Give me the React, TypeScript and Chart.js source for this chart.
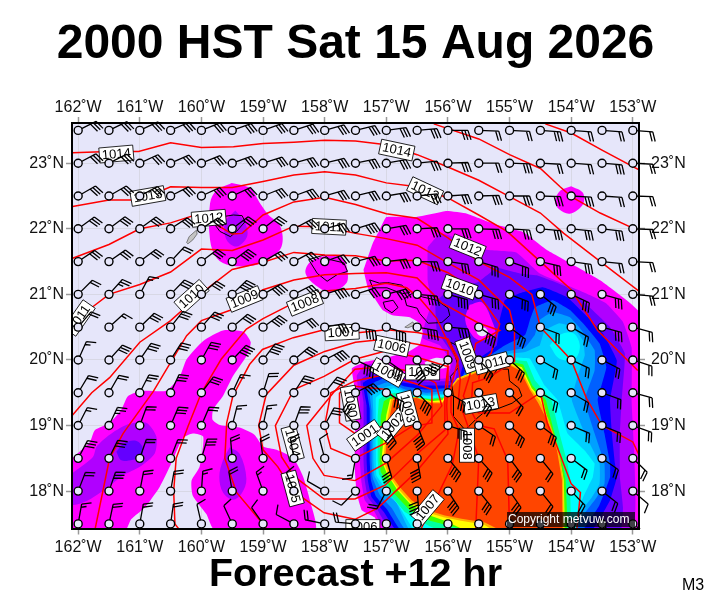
import React, { useEffect, useRef } from "react";
import { Chart, registerables } from "chart.js";
Chart.register(...registerables);

type P = number[];
const FONT = "'Liberation Sans', Arial, sans-serif";
const titleText = "2000 HST Sat 15 Aug 2026";
const subtitleText = "Forecast +12 hr";
const lonTicks = [-162, -161, -160, -159, -158, -157, -156, -155, -154, -153];
const latTicks = [18, 19, 20, 21, 22, 23];
const stationLons = [-162, -161.5, -161, -160.5, -160, -159.5, -159, -158.5, -158, -157.5, -157, -156.5, -156, -155.5, -155, -154.5, -154, -153.5, -153];
const stationLats = [23.5, 23, 22.5, 22, 21.5, 21, 20.5, 20, 19.5, 19, 18.5, 18, 17.5];

const windAngle = [
  [27, 26, 25, 24, 22, 20, 20, 18, 16, 14, 8, 5, 0, -2, -3, -4, -4, -4, -4],
  [28, 27, 25, 24, 22, 20, 18, 16, 14, 12, 10, 6, 2, 0, -2, -3, -4, -5, -3],
  [30, 30, 28, 27, 25, 25, 22, 20, 16, 14, 10, 6, 4, 2, 0, -2, -3, -4, -2],
  [36, 37, 36, 33, 33, 37, 38, 28, 16, 17, 10, 3, 0, -2, -4, -5, -6, -7, -2],
  [34, 35, 37, 47, 37, 37, 30, 28, 20, 15, 7, -1, -8, -17, -19, -13, -8, -6, -3],
  [45, 48, 62, 46, 41, 44, 30, 27, 18, 18, 15, -5, -15, -15, -21, -38, -25, -15, -5],
  [50, 42, 44, 52, 49, 40, 36, 26, 10, -10, -17, -10, -5, -33, -37, -20, -30, -15, -15],
  [66, 48, 56, 58, 61, 47, 53, 40, 28, -25, -35, -65, -135, -45, -42, -30, -25, -27, -18],
  [59, 60, 63, 65, 53, 65, 73, 57, 51, 27, -28, -45, -30, -50, -47, -30, -30, -20, -15],
  [63, 65, 70, 67, 67, 76, 78, 70, 62, 130, -60, -68, -18, -34, -42, -37, -23, -22, -20],
  [62, 64, 71, 69, 73, 95, 98, 100, 105, -100, -74, -80, -50, -48, -53, -51, -37, -35, -44],
  [69, 71, 79, 80, 86, 100, 110, 112, 150, -135, -118, -85, -57, -51, -55, -51, -46, -38, -40],
  [80, 78, 80, 82, 103, 115, 125, 152, 168, 175, -100, -80, -60, -55, -55, -55, -50, -45, -35],
];
const windSpeed = [
  [30, 30, 30, 30, 30, 30, 30, 30, 30, 30, 30, 30, 30, 20, 20, 30, 20, 20, 20],
  [30, 30, 30, 30, 30, 30, 30, 30, 30, 30, 30, 30, 30, 20, 30, 20, 20, 30, 20],
  [30, 30, 30, 30, 30, 30, 30, 30, 30, 30, 30, 30, 30, 30, 30, 30, 30, 20, 20],
  [30, 30, 30, 30, 30, 30, 30, 30, 30, 40, 30, 30, 30, 30, 30, 30, 30, 30, 20],
  [30, 30, 30, 20, 30, 40, 30, 30, 30, 30, 30, 30, 30, 30, 30, 30, 30, 20, 20],
  [20, 25, 15, 30, 30, 40, 40, 30, 40, 30, 40, 40, 40, 30, 30, 30, 30, 30, 20],
  [20, 15, 30, 30, 30, 30, 40, 30, 30, 40, 40, 40, 40, 40, 30, 20, 20, 30, 20],
  [15, 30, 30, 30, 30, 40, 40, 30, 40, 40, 40, 40, 40, 30, 30, 20, 20, 20, 20],
  [20, 20, 25, 30, 30, 15, 20, 30, 30, 40, 40, 40, 30, 30, 20, 20, 20, 20, 20],
  [15, 25, 20, 30, 20, 15, 15, 30, 30, 30, 40, 40, 40, 20, 30, 30, 20, 20, 20],
  [30, 30, 20, 20, 30, 20, 20, 20, 10, 15, 30, 40, 40, 30, 30, 20, 20, 20, 20],
  [20, 30, 20, 20, 15, 20, 15, 10, 10, 10, 20, 40, 40, 30, 30, 20, 20, 20, 10],
  [15, 20, 20, 20, 10, 10, 10, 10, 20, 20, 30, 40, 40, 30, 30, 30, 20, 20, 10],
];

// rain shading
const kauaiRain: P[] = [[-159.51,22.7],[-159.21,22.62],[-159.05,22.39],[-158.91,22.21],[-158.72,22.04],[-158.7,21.73],[-158.91,21.53],[-159.15,21.44],[-159.53,21.44],[-159.75,21.55],[-159.86,21.83],[-159.86,22.39],[-159.75,22.59]];
const kauaiCore: P[] = [[-159.45,22.28],[-159.29,22.09],[-159.26,21.88],[-159.43,21.73],[-159.59,21.83],[-159.62,22.09]];
const oahuRain: P[] = [[-157.96,21.6],[-157.71,21.55],[-157.63,21.35],[-157.65,21.17],[-157.91,21.03],[-158.12,21.12],[-158.31,21.32],[-158.23,21.5]];
const dotRain: P[] = [[-154,22.65],[-153.81,22.55],[-153.81,22.37],[-154.02,22.23],[-154.2,22.3],[-154.26,22.42],[-154.18,22.58]];
const swRain: P[] = [[-162.1,18.5],[-161.81,18.75],[-161.73,18.93],[-161.49,19.04],[-161.3,19.24],[-161.19,19.45],[-160.95,19.53],[-160.57,19.53],[-160.35,19.75],[-160.24,20.01],[-159.97,20.29],[-159.65,20.45],[-159.32,20.43],[-159.2,20.27],[-159.27,20.06],[-159.49,19.75],[-159.65,19.45],[-159.81,19.24],[-159.82,19.09],[-159.7,19.01],[-159.38,18.97],[-159.14,18.86],[-159,18.68],[-158.78,18.63],[-158.51,18.5],[-158.35,18.22],[-158.24,17.86],[-158.16,17.4],[-159.78,17.4],[-159.92,17.65],[-160.14,17.93],[-160.16,18.16],[-160.03,18.37],[-159.97,18.83],[-160.14,18.88],[-160.3,18.81],[-160.49,18.42],[-160.68,18.06],[-160.92,17.75],[-161.14,17.57],[-161.24,17.4],[-162.1,17.4]];
const swPurple: P[] = [[-162.1,18.27],[-161.76,18.52],[-161.7,18.68],[-161.49,18.86],[-161.22,19.01],[-160.89,19.04],[-160.73,18.83],[-160.76,18.57],[-161,18.37],[-161.27,18.24],[-161.59,18.01],[-161.86,17.85],[-162.1,17.8]];
const swViolet: P[] = [[-161.38,18.6],[-161.27,18.72],[-161.08,18.77],[-160.96,18.68],[-160.97,18.52],[-161.11,18.48],[-161.3,18.47]];
const sPurple: P[] = [[-159.54,18.67],[-159.38,18.57],[-159.27,18.19],[-159.35,17.96],[-159.49,17.87],[-159.65,17.98],[-159.71,18.22],[-159.65,18.47]];
const mainRain: P[] = [[-157.37,21.37],[-157.22,21.78],[-157.11,21.98],[-157,22.18],[-156.51,22.18],[-156.02,22.27],[-155.69,22.23],[-155.21,22.06],[-154.78,21.95],[-154.4,21.68],[-153.97,21.45],[-153.49,21.19],[-152.88,20.71],[-152.88,17.37],[-157.07,17.37],[-157.19,17.6],[-157.4,17.71],[-157.48,17.97],[-157.51,18.32],[-157.51,18.78],[-157.48,19.39],[-157.56,19.87],[-157.35,19.97],[-157.02,20.03],[-156.65,20.12],[-156.46,20.23],[-156.41,20.42],[-156.46,20.56],[-156.62,20.65],[-156.9,20.68],[-157.06,20.76],[-157.19,20.94],[-157.3,21.1]];
const holeA: P[] = [[-156.38,19.96],[-156.21,20.03],[-156.02,20],[-155.97,19.92],[-156.1,19.87],[-156.33,19.89]];
const holeB: P[] = [[-155.53,20.49],[-155.4,20.49],[-155.35,20.41],[-155.45,20.36],[-155.53,20.41]];
const level1: P[] = [[-156.33,21.72],[-156.13,21.93],[-155.86,21.86],[-155.37,21.68],[-154.89,21.64],[-154.51,21.32],[-154.14,21.17],[-153.7,20.99],[-153.43,20.86],[-153.16,20.58],[-153.02,20.19],[-153.02,19.39],[-153.02,17.37],[-157,17.37],[-157.19,17.68],[-157.35,17.86],[-157.4,18.12],[-157.43,18.47],[-157.43,19.36],[-157.48,19.76],[-157.35,19.92],[-157.14,19.95],[-156.75,19.81],[-156.38,19.72],[-156.02,19.72],[-155.94,19.96],[-156.13,20.22],[-156.41,20.33],[-156.38,20.53],[-156.27,20.87],[-156.33,21.22]];
const level2: P[] = [[-155.21,21.41],[-154.83,21.32],[-154.56,21.29],[-154.07,21.11],[-153.7,20.8],[-153.37,20.5],[-153.13,20.1],[-153.18,19.39],[-153.21,18.88],[-153.21,18.21],[-153.16,17.75],[-153.21,17.37],[-156.91,17.37],[-157.14,17.71],[-157.3,17.91],[-157.35,18.17],[-157.37,18.47],[-157.37,19.36],[-157.42,19.69],[-157.27,19.81],[-157.11,19.87],[-156.75,19.73],[-156.38,19.67],[-155.89,19.69],[-155.84,19.96],[-156.02,20.22],[-156.18,20.45],[-156.2,20.88],[-155.97,21.07],[-155.51,21.19]];
const patch: P[] = [[-155.65,20.84],[-155.45,20.88],[-155.29,20.61],[-155.24,20.38],[-155.48,20.3],[-155.61,20.38],[-155.72,20.61]];
const level3: P[] = [[-155.08,20.91],[-154.83,21.02],[-154.46,21.11],[-154.07,20.96],[-153.73,20.65],[-153.49,20.41],[-153.26,19.99],[-153.37,19.39],[-153.34,18.88],[-153.29,18.42],[-153.26,18.21],[-153.37,17.86],[-153.7,17.37],[-156.81,17.37],[-157.04,17.68],[-157.24,17.91],[-157.3,18.17],[-157.32,18.47],[-157.32,19.31],[-157.38,19.65],[-157.24,19.73],[-157.08,19.8],[-156.75,19.66],[-156.38,19.61],[-155.85,19.63],[-155.73,19.99],[-155.51,20.02],[-155.21,20.22],[-155.16,20.61]];
const level4: P[] = [[-154.67,20.61],[-154.59,20.8],[-154.3,20.91],[-154.02,20.76],[-153.78,20.53],[-153.54,20.25],[-153.43,19.89],[-153.57,19.39],[-153.46,18.88],[-153.37,18.42],[-153.37,18.21],[-153.54,17.79],[-153.86,17.37],[-156.73,17.37],[-156.98,17.71],[-157.17,17.92],[-157.25,18.17],[-157.27,18.47],[-157.27,19.26],[-157.32,19.57],[-157.19,19.66],[-157.02,19.72],[-156.71,19.6],[-156.36,19.55],[-155.85,19.6],[-155.68,19.9],[-155.4,20.02],[-155.08,20.22],[-154.75,20.38]];
const level5: P[] = [[-154.59,20.38],[-154.51,20.61],[-154.3,20.73],[-154.02,20.65],[-153.83,20.45],[-153.62,20.15],[-153.62,19.84],[-153.78,19.39],[-153.62,18.88],[-153.46,18.42],[-153.46,18.11],[-153.59,17.9],[-153.83,17.6],[-153.94,17.37],[-156.65,17.37],[-156.91,17.74],[-157.11,17.95],[-157.22,18.2],[-157.24,18.47],[-157.24,19.23],[-157.27,19.5],[-157.16,19.6],[-156.98,19.66],[-156.69,19.55],[-156.34,19.5],[-155.84,19.56],[-155.65,19.87],[-155.37,19.98],[-155.05,20.13],[-154.75,20.19]];
const level6: P[] = [[-154.51,20.22],[-154.43,20.45],[-154.19,20.56],[-153.97,20.5],[-153.81,20.3],[-153.78,20.07],[-153.89,19.77],[-153.99,19.39],[-153.78,18.88],[-153.54,18.42],[-153.54,18.11],[-153.67,17.9],[-153.89,17.63],[-153.99,17.37],[-156.59,17.37],[-156.84,17.83],[-157.04,17.98],[-157.19,18.23],[-157.21,18.47],[-157.21,19.2],[-157.22,19.46],[-157.11,19.55],[-156.91,19.61],[-156.65,19.5],[-156.33,19.47],[-155.83,19.51],[-155.61,19.83],[-155.34,19.95],[-155.03,20.09],[-154.75,20.12]];
const level7: P[] = [[-155.01,20.04],[-154.67,20.02],[-154.43,19.61],[-154.22,19.39],[-154.06,18.88],[-153.78,18.62],[-153.62,18.42],[-153.65,18.21],[-153.81,17.9],[-153.89,17.71],[-153.94,17.37],[-156.52,17.37],[-156.8,17.78],[-156.99,18.01],[-157.16,18.24],[-157.17,18.47],[-157.17,19.17],[-157.17,19.42],[-157.06,19.51],[-156.88,19.57],[-156.62,19.46],[-156.31,19.45],[-155.83,19.49],[-155.58,19.8],[-155.3,19.92]];
const cyanBlob: P[] = [[-154.35,20.22],[-154.19,20.38],[-153.97,20.41],[-153.86,20.22],[-153.94,20.02],[-154.19,20.02]];
const level8: P[] = [[-155.01,20.01],[-154.72,19.98],[-154.59,19.69],[-154.32,19.39],[-154.19,18.88],[-154.06,18.42],[-154.02,18.17],[-154.01,17.71],[-154.02,17.37],[-156.05,17.37],[-156.29,17.46],[-156.7,17.68],[-156.94,17.95],[-157.12,18.26],[-157.14,18.47],[-157.14,19.14],[-157.12,19.4],[-157.01,19.47],[-156.86,19.5],[-156.6,19.44],[-156.29,19.41],[-155.85,19.47],[-155.54,19.76],[-155.29,19.9]];
const level9: P[] = [[-155,19.98],[-154.78,19.93],[-154.63,19.61],[-154.41,19.39],[-154.27,18.88],[-154.14,18.42],[-154.09,18.17],[-154.07,17.71],[-154.07,17.37],[-155.32,17.37],[-155.81,17.43],[-156.29,17.55],[-156.62,17.71],[-156.89,17.98],[-157.09,18.29],[-157.11,18.47],[-157.09,18.93],[-157.09,19.14],[-157.04,19.37],[-156.94,19.43],[-156.59,19.43],[-156.28,19.4],[-155.94,19.43],[-155.85,19.69],[-155.53,19.86],[-155.29,19.92]];
const level10: P[] = [[-155,19.95],[-154.8,19.89],[-154.64,19.57],[-154.46,19.39],[-154.33,18.89],[-154.17,18.42],[-154.12,18.17],[-154.11,17.71],[-154.11,17.37],[-155.65,17.37],[-156.05,17.55],[-156.33,17.64],[-156.62,17.81],[-156.83,18.03],[-156.99,18.27],[-157.08,18.47],[-157.03,18.93],[-157,19.16],[-156.94,19.4],[-156.51,19.43],[-156.27,19.37],[-156.09,19.39],[-155.99,19.54],[-155.85,19.72],[-155.53,19.84],[-155.29,19.9]];
const level11: P[] = [[-155.29,19.89],[-155,19.94],[-154.81,19.86],[-154.65,19.55],[-154.5,19.37],[-154.36,19.08],[-154.2,18.62],[-154.13,18.17],[-154.12,17.37],[-155.2,17.37],[-155.42,17.49],[-155.79,17.55],[-156.07,17.6],[-156.36,17.68],[-156.61,17.83],[-156.81,18.04],[-156.97,18.26],[-157.05,18.47],[-157,18.93],[-156.97,19.16],[-156.92,19.41],[-156.51,19.43],[-156.27,19.36],[-156.08,19.36],[-156,19.53],[-155.85,19.71],[-155.53,19.83]];
const level12: P[] = [[-156,19.51],[-155.84,19.69],[-155.53,19.81],[-155.29,19.87],[-155,19.92],[-154.83,19.84],[-154.67,19.54],[-154.54,19.35],[-154.39,19.08],[-154.23,18.62],[-154.15,18.17],[-154.14,17.37],[-155.08,17.37],[-155.4,17.52],[-155.78,17.58],[-156.05,17.63],[-156.33,17.71],[-156.59,17.86],[-156.78,18.06],[-156.94,18.27],[-157.02,18.47],[-156.98,18.93],[-156.94,19.16],[-156.89,19.39],[-156.51,19.42],[-156.27,19.34],[-156.09,19.34]];

const MAGENTA = "#ff00ff", LAV = "#e6e6fa";
const rainLayers: [P[], string, number][] = [
  [kauaiRain, MAGENTA, 0.35], [kauaiCore, "#b000ff", 0.35], [oahuRain, MAGENTA, 0.35], [dotRain, MAGENTA, 0.35],
  [swRain, MAGENTA, 0.2], [swPurple, "#b000ff", 0.25], [swViolet, "#6400ff", 0.35], [sPurple, "#b000ff", 0.35],
  [mainRain, MAGENTA, 0.1], [holeA, LAV, 0.35], [level1, "#b000ff", 0.1], [level2, "#6400ff", 0.1], [patch, MAGENTA, 0.35], [holeB, LAV, 0.35],
  [level3, "#0000ff", 0.1], [level4, "#0060ff", 0.1], [level5, "#00a0ff", 0.1], [level6, "#00d0ff", 0.1], [level7, "#00ffff", 0.05], [cyanBlob, "#00ffff", 0.35],
  [level8, "#00ffa0", 0], [level9, "#40ff00", 0], [level10, "#ffff00", 0], [level11, "#ffb000", 0], [level12, "#ff4500", 0],
];

// coasts
const coastKauai: P[] = [[-159.78,22.06],[-159.62,22.19],[-159.48,22.21],[-159.34,22.2],[-159.29,22.11],[-159.43,21.96],[-159.53,21.88],[-159.7,21.96]];
const coastOahu: P[] = [[-158.26,21.53],[-158.01,21.6],[-157.91,21.53],[-157.69,21.48],[-157.63,21.35],[-157.8,21.3],[-157.96,21.2],[-158.12,21.32]];
const coastMolokai: P[] = [[-157.27,21.22],[-157.11,21.17],[-156.98,21.18],[-156.75,21.14],[-156.62,21.03],[-156.74,21.01],[-156.99,21.1],[-157.22,21.1]];
const coastLanai: P[] = [[-157.05,20.88],[-156.89,20.91],[-156.81,20.8],[-156.91,20.72],[-157.02,20.79]];
const coastMaui: P[] = [[-156.7,20.94],[-156.57,21.02],[-156.41,20.96],[-156.18,20.91],[-156,20.79],[-155.97,20.68],[-156.1,20.57],[-156.32,20.56],[-156.46,20.71],[-156.5,20.79],[-156.67,20.83]];
const coastHawaii: P[] = [[-155.96,20.27],[-155.88,20.06],[-155.83,19.88],[-155.96,19.75],[-155.91,19.45],[-155.91,19.14],[-155.72,18.93],[-155.53,19.11],[-155.39,19.22],[-155.21,19.25],[-154.96,19.34],[-154.8,19.45],[-154.85,19.57],[-155,19.68],[-155.02,19.86],[-155.2,19.86],[-155.29,19.73],[-155.3,19.9],[-155.6,20.1]];
const isleNiihau: P[] = [[-160.24,21.79],[-160.2,21.88],[-160.08,21.98],[-160.07,21.92],[-160.14,21.83],[-160.22,21.77]];
const isleKahoolawe: P[] = [[-156.7,20.5],[-156.57,20.58],[-156.54,20.53],[-156.65,20.49]];
const coasts = [coastKauai, coastOahu, coastMolokai, coastLanai, coastMaui, coastHawaii];
const greyIsles = [isleNiihau, isleKahoolawe];

// isobars
const isobarA: P[] = [[-154.42,23.6],[-154,23.46],[-153.5,23.2],[-152.9,22.9]];
const isobarB: P[] = [[-156.23,23.6],[-155.5,23.37],[-155,23.13],[-154.5,22.92],[-154.18,22.64],[-154,22.49],[-153.53,22.24],[-152.93,21.98]];
const isobar1014: P[] = [[-162.09,23.16],[-161.5,23.18],[-161.02,23.18],[-160.5,23.31],[-160,23.24],[-159.48,23.25],[-159,23.3],[-158.5,23.32],[-158,23.35],[-157.5,23.34],[-157,23.28],[-156.5,23.13],[-156.02,22.95],[-155.5,22.74],[-155,22.49],[-154.5,22.24],[-154.12,21.93],[-153.5,21.48],[-152.9,21.05]];
const isobar1013: P[] = [[-162.09,22.34],[-161.5,22.44],[-161,22.44],[-160.5,22.64],[-160,22.63],[-159.5,22.63],[-159,22.72],[-158.5,22.82],[-158,22.87],[-157.5,22.82],[-157,22.7],[-156.5,22.64],[-156,22.47],[-155.5,22.21],[-155.04,21.96],[-154.5,21.5],[-154,21.07],[-153.57,20.45],[-152.92,19.84]];
const isobar1012: P[] = [[-162.09,21.55],[-161.5,21.76],[-161,22],[-160.5,22.09],[-160,22.24],[-159.75,22.06],[-159.5,21.92],[-159.34,21.93],[-159,22.21],[-158.5,22.41],[-158,22.48],[-157.5,22.37],[-157,22.23],[-156.5,22.16],[-156,21.86],[-155.5,21.5],[-155,21.26],[-154.64,21],[-154.5,20.5],[-154,20],[-153.75,19.41],[-153.5,19],[-153,18.75],[-152.9,18.55]];
const isobar1011: P[] = [[-162.1,20.6],[-161.89,20.72],[-161.5,21],[-161,21.15],[-160.5,21.34],[-160,21.69],[-159.5,21.67],[-159,21.83],[-158.5,22.04],[-158,22.03],[-157.5,21.93],[-157,21.85],[-156.5,21.75],[-156,21.48],[-155.5,21.22],[-155,20.76],[-154.92,20.45],[-154.92,19.98],[-155.34,19.73],[-155.6,19.65],[-155.62,19.3],[-155.5,19.19],[-155,19.19],[-154.5,19.5],[-154.39,19.04],[-154.23,18.68],[-154,18.11],[-153.85,17.98],[-153.91,17.4]];
const isobar1010: P[] = [[-162.09,19.16],[-161.78,19.5],[-161.49,19.73],[-161,20.27],[-160.5,20.6],[-160,21.02],[-159.5,21.38],[-159,21.49],[-158.5,21.64],[-158,21.6],[-157.5,21.59],[-157,21.51],[-156.5,21.52],[-156,21.33],[-155.6,21.09],[-155.48,20.96],[-155.16,20.55],[-155.2,20.42],[-155.3,20.1],[-155.47,19.95],[-155.5,19.7]];
const isobar1009: P[] = [[-161.73,17.4],[-161.49,18.5],[-161.27,18.88],[-160.78,19.52],[-160.49,19.98],[-160.24,20.37],[-160,20.6],[-159.5,20.77],[-159,21.07],[-158.5,21.22],[-158,21.3],[-157.5,21.32],[-157,21.33],[-156.5,21.25],[-156.1,20.87],[-155.5,20.56],[-155.16,20.45],[-155.55,20.25],[-155.65,19.75],[-155.75,19.45],[-155.5,19],[-155.25,18.95],[-155.03,18.47],[-155,17.4]];
const isobar1008: P[] = [[-160.34,17.39],[-160.43,17.5],[-160.45,18],[-160.41,18.5],[-160.22,18.98],[-160,19.5],[-159.68,20.01],[-159.27,20.47],[-159,20.63],[-158.5,20.87],[-158,21.05],[-157.5,21.09],[-157,21.17],[-156.67,21.1],[-156.46,20.94],[-156.18,20.63],[-156,20.27],[-155.85,20],[-155.8,19.7],[-155.83,19.4],[-155.68,19],[-155.5,18.5],[-155.55,17.4]];
const isobar1007: P[] = [[-158.95,17.44],[-159.43,17.98],[-159.62,18.5],[-159.59,19.04],[-159.49,19.45],[-159.22,19.93],[-159.01,20.16],[-158.51,20.34],[-158.01,20.46],[-157.5,20.41],[-157,20.46],[-156.5,20.42],[-156,20.32],[-155.83,20.01],[-155.95,19.6],[-155.95,19.2],[-155.82,18.93],[-155.93,18.4],[-156.2,17.87],[-156.45,17.4]];
const isobar1006: P[] = [[-157.51,17.57],[-158.01,17.67],[-158.51,18],[-158.76,18.37],[-159,18.63],[-159.07,19],[-158.95,19.47],[-158.5,19.92],[-158,20.13],[-157.5,20.27],[-157,20.32],[-156.5,20.24],[-156,20.14],[-156,19.7],[-156.02,19.3],[-156,18.87],[-156.54,18.27],[-157.14,17.74],[-157.51,17.57]];
const isobar1005: P[] = [[-157.51,17.88],[-158.01,17.88],[-158.49,18.22],[-158.7,18.52],[-158.8,19],[-158.5,19.55],[-158.01,19.75],[-157.51,20.01],[-157,20.14],[-156.5,20.04],[-156,19.9],[-156.05,19.5],[-156.05,18.93],[-156.5,18.57],[-157.02,18.09],[-157.51,17.88]];
const isobar1004: P[] = [[-157.51,18.16],[-158.01,18.24],[-158.19,18.5],[-158.29,19],[-157.86,19.5],[-157.51,19.86],[-157,19.9],[-156.5,19.8],[-156.2,19.65],[-156.1,19.3],[-156.5,18.85],[-157,18.43],[-157.51,18.16]];
const isobar1002: P[] = [[-157.51,19.68],[-157,19.78],[-156.5,19.63],[-156.26,19.55],[-156.26,19.04],[-156.6,18.98],[-157,18.74],[-157.51,18.5],[-157.9,18.65],[-158,19],[-157.9,19.5],[-157.51,19.68]];
const isobar1000: P[] = [[-157.76,19.5],[-157.76,19.04],[-157.51,18.88],[-157,19],[-156.75,19.3],[-157,19.55],[-157.51,19.6],[-157.76,19.5]];
const isobars = [isobarA, isobarB, isobar1014, isobar1013, isobar1012, isobar1011, isobar1010, isobar1009, isobar1008, isobar1007, isobar1006, isobar1005, isobar1004, isobar1002, isobar1000];

// isobar labels: text, lon, lat, rotation
const labelText = ["1014","1013","1012","1011","1010","1009","1008","1011","1007","1006","1004","1005","1000","1004","1005","1001","1002","1003","1009","1011","1013","1008","1007","1006","1010","1012","1014","1013"];
const labelLon = [-161.38,-160.87,-159.88,-157.93,-160.16,-159.3,-158.32,-161.98,-157.72,-156.91,-156.98,-156.41,-157.58,-158.52,-158.52,-157.35,-156.89,-156.65,-155.68,-155.29,-155.47,-155.69,-156.33,-157.38,-155.81,-155.68,-156.83,-156.37];
const labelLat = [23.14,22.5,22.16,22.03,20.97,20.93,20.87,20.64,20.42,20.21,19.81,19.81,19.34,18.73,18.04,18.85,19,19.26,20.07,19.95,19.33,18.7,17.75,17.45,21.11,21.72,23.2,22.58];
const labelTilt = [-5,-10,-5,3,-42,-22,-22,-55,-3,12,30,0,80,75,75,-35,-50,75,70,-15,-10,90,-50,0,20,22,12,25];

const closed = (p: P[]) => [...p, p[0]].map(([x, y]) => ({ x, y }));
const open = (p: P[]) => p.map(([x, y]) => ({ x, y }));

const drawLayers = {
  id: "mapLayers",
  beforeDraw(chart: any) {
    const { ctx, chartArea: a } = chart;
    ctx.save();
    ctx.fillStyle = LAV;
    ctx.fillRect(a.left, a.top, a.width, a.height);
    ctx.restore();
  },
  beforeDatasetDraw(chart: any, args: any) {
    if (chart.data.datasets[args.index].label !== "stations") return;
    const { ctx, chartArea: a, scales } = chart;
    // isobar labels
    ctx.save();
    ctx.beginPath();
    ctx.rect(a.left, a.top, a.width, a.height);
    ctx.clip();
    ctx.font = `13px ${FONT}`;
    ctx.textAlign = "center";
    ctx.textBaseline = "middle";
    labelText.forEach((t, i) => {
      ctx.save();
      ctx.translate(scales.x.getPixelForValue(labelLon[i]), scales.y.getPixelForValue(labelLat[i]));
      ctx.rotate((labelTilt[i] * Math.PI) / 180);
      ctx.fillStyle = "#fff";
      ctx.strokeStyle = "#000";
      ctx.lineWidth = 0.8;
      ctx.fillRect(-17, -7.5, 34, 15);
      ctx.strokeRect(-17, -7.5, 34, 15);
      ctx.fillStyle = "#000";
      ctx.fillText(t, 0, 0.5);
      ctx.restore();
    });
    ctx.restore();
    // wind barbs
    ctx.save();
    ctx.beginPath();
    ctx.rect(0, 0, chart.width, a.bottom);
    ctx.clip();
    ctx.strokeStyle = "#000";
    ctx.lineWidth = 1.3;
    stationLats.forEach((lat, r) => {
      stationLons.forEach((lon, c) => {
        const ang = (windAngle[r][c] * Math.PI) / 180;
        const fa = ((windAngle[r][c] - 72) * Math.PI) / 180;
        const ux = Math.cos(ang), uy = -Math.sin(ang);
        const fx = Math.cos(fa), fy = -Math.sin(fa);
        const x0 = scales.x.getPixelForValue(lon), y0 = scales.y.getPixelForValue(lat);
        const L = 20;
        ctx.beginPath();
        ctx.moveTo(x0, y0);
        ctx.lineTo(x0 + ux * L, y0 + uy * L);
        let rest = windSpeed[r][c];
        let d = L;
        while (rest > 0) {
          const len = rest >= 10 ? 10 : 5.5;
          const sx = x0 + ux * d, sy = y0 + uy * d;
          ctx.moveTo(sx, sy);
          ctx.lineTo(sx + fx * len, sy + fy * len);
          rest -= rest >= 10 ? 10 : 5;
          d -= 3.1;
        }
        ctx.stroke();
      });
    });
    ctx.restore();
  },
  afterDraw(chart: any) {
    const { ctx } = chart;
    ctx.save();
    ctx.fillStyle = "rgba(0,0,0,0.72)";
    ctx.fillRect(507, 512, 128, 15);
    ctx.fillStyle = "#fff";
    ctx.font = `12px ${FONT}`;
    ctx.textAlign = "left";
    ctx.textBaseline = "middle";
    ctx.fillText("Copyright metvuw.com", 508, 519.5);
    ctx.fillStyle = "#000";
    ctx.font = `16px ${FONT}`;
    ctx.fillText("M3", 682, 586);
    ctx.restore();
  },
};

export default function App() {
  const ref = useRef<HTMLCanvasElement>(null);
  useEffect(() => {
    const seq: any[] = [];
    rainLayers.forEach(([p, color, tension]) =>
      seq.push({ data: closed(p), showLine: true, fill: "shape", backgroundColor: color, borderWidth: 0, borderColor: color, pointRadius: 0, tension })
    );
    greyIsles.forEach((p) =>
      seq.push({ data: closed(p), showLine: true, fill: "shape", backgroundColor: "#c4c4c4", borderColor: "#555", borderWidth: 0.7, pointRadius: 0 })
    );
    coasts.forEach((p) =>
      seq.push({ data: closed(p), showLine: true, fill: false, borderColor: "#000", borderWidth: 1, pointRadius: 0 })
    );
    isobars.forEach((p) =>
      seq.push({ data: open(p), showLine: true, fill: false, borderColor: "#ff0000", borderWidth: 1.5, pointRadius: 0 })
    );
    const stationPts: { x: number; y: number }[] = [];
    stationLats.forEach((y) => stationLons.forEach((x) => stationPts.push({ x, y })));
    seq.push({ label: "stations", data: stationPts, showLine: false, pointRadius: 4, pointBackgroundColor: LAV, pointBorderColor: "#000", pointBorderWidth: 1.4 });
    seq.forEach((d, i) => (d.order = seq.length - i));

    const tickFont = { family: FONT, size: 16 };
    const xAxis = (position: string, height: number, padding: number, grid: boolean) => ({
      type: "linear", position, min: -162.1, max: -152.9,
      afterBuildTicks: (s: any) => { s.ticks = lonTicks.map((value) => ({ value })); },
      afterFit: (s: any) => { s.height = height; },
      ticks: { color: "#111", font: tickFont, padding, autoSkip: false, maxRotation: 0, callback: (v: number) => `${Math.abs(v)}˚W` },
      grid: { drawOnChartArea: grid, color: "rgba(190,190,190,0.35)", tickColor: "#999", tickLength: 6, tickWidth: 1.5 },
      border: { display: true, color: "#000", width: 2, z: 1 },
    });
    const yAxis = (position: string, padding: number, grid: boolean) => ({
      type: "linear", position, min: 17.43, max: 23.613,
      afterBuildTicks: (s: any) => { s.ticks = latTicks.map((value) => ({ value })); },
      afterFit: (s: any) => { s.width = 72; },
      ticks: { color: "#111", font: tickFont, padding, autoSkip: false, callback: (v: number) => `${v}˚N` },
      grid: { drawOnChartArea: grid, color: "rgba(190,190,190,0.35)", tickColor: "#999", tickLength: 6, tickWidth: 1.5 },
      border: { display: true, color: "#000", width: 2, z: 1 },
    });

    const chart = new Chart(ref.current as HTMLCanvasElement, {
      type: "scatter",
      data: { datasets: seq },
      plugins: [drawLayers],
      options: {
        animation: false,
        responsive: false,
        devicePixelRatio: 1,
        layout: { padding: 0, autoPadding: false },
        scales: {
          x: xAxis("bottom", 27, 3, true),
          xTop: xAxis("top", 30, 0, false),
          y: yAxis("left", 2, true),
          yRight: yAxis("right", 6, false),
        },
        plugins: {
          legend: { display: false },
          tooltip: { enabled: false },
          title: { display: true, text: titleText, color: "#000", font: { family: FONT, size: 48, weight: "bold", lineHeight: 1.2 }, padding: { top: 16, bottom: 19.4 } },
          subtitle: { display: true, text: subtitleText, position: "bottom", color: "#000", font: { family: FONT, size: 39.5, weight: "bold", lineHeight: 1 }, padding: { top: 0, bottom: 5 } },
        },
      } as any,
    } as any);
    return () => chart.destroy();
  }, []);
  return <canvas ref={ref} width={711} height={600} style={{ position: "absolute", left: 0, top: 0, display: "block" }} />;
}
